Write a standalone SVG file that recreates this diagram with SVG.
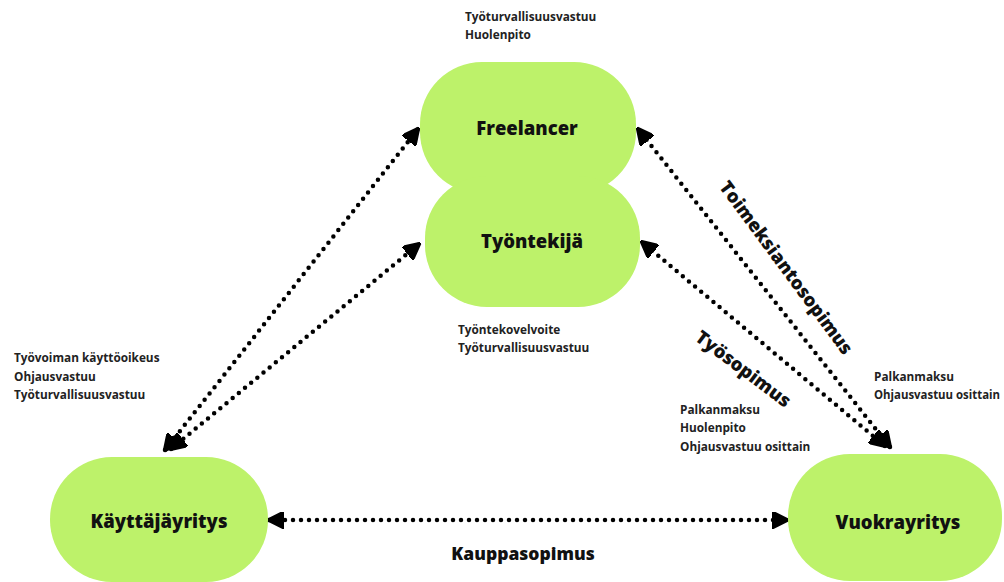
<svg xmlns="http://www.w3.org/2000/svg" width="1004" height="582" viewBox="0 0 1004 582">
<defs>
<style>
.node{fill:#bdf26a;}
.lbl{font-family:"Open Sans","Liberation Sans",sans-serif;font-weight:800;font-size:18.5px;fill:#111;text-anchor:middle;dominant-baseline:central;}
.note{font-family:"Open Sans","Liberation Sans",sans-serif;font-weight:700;font-size:11.8px;fill:#222;}
.rel{font-family:"Open Sans","Liberation Sans",sans-serif;font-weight:800;font-size:18.5px;fill:#111;text-anchor:middle;dominant-baseline:central;}
.conn{fill:none;stroke:#000;stroke-width:4.5;stroke-linecap:round;stroke-dasharray:0 8;marker-start:url(#ah);marker-end:url(#ah);}
</style>
<marker id="ah" viewBox="0 0 10 10" refX="9" refY="5" markerWidth="17" markerHeight="17" markerUnits="userSpaceOnUse" orient="auto-start-reverse">
<path d="M0,0 L10,5 L0,10 z" fill="#000" stroke="#000" stroke-width="1.5" stroke-linejoin="round"/>
</marker>
</defs>
<rect width="1004" height="582" fill="#fff"/>
<g id="connectors">
<line class="conn" x1="165" y1="450" x2="418" y2="129"/>
<line class="conn" x1="171" y1="449" x2="419" y2="244"/>
<line class="conn" x1="890" y1="447" x2="638" y2="129"/>
<line class="conn" x1="885" y1="446" x2="642" y2="242"/>
<line class="conn" x1="269" y1="520" x2="787" y2="520"/>
</g>
<g id="freelancer">
<rect class="node" x="420" y="62" width="216" height="132" rx="62"/>
<text class="lbl" x="527" y="127">Freelancer</text>
</g>
<g id="tyontekija">
<rect class="node" x="425" y="176" width="215" height="131" rx="62"/>
<text class="lbl" x="532" y="240">Työntekijä</text>
</g>
<g id="kayttajayritys">
<rect class="node" x="50" y="457" width="218" height="125" rx="62"/>
<text class="lbl" x="159" y="520">Käyttäjäyritys</text>
</g>
<g id="vuokrayritys">
<rect class="node" x="788" y="454" width="214" height="127" rx="62"/>
<text class="lbl" x="898" y="521">Vuokrayritys</text>
</g>
<g id="notes">
<text class="note" x="465" y="21">Työturvallisuusvastuu</text>
<text class="note" x="465" y="39">Huolenpito</text>
<text class="note" x="458" y="334">Työntekovelvoite</text>
<text class="note" x="458" y="352">Työturvallisuusvastuu</text>
<text class="note" x="14" y="362">Työvoiman käyttöoikeus</text>
<text class="note" x="14" y="381">Ohjausvastuu</text>
<text class="note" x="14" y="399">Työturvallisuusvastuu</text>
<text class="note" x="680" y="414">Palkanmaksu</text>
<text class="note" x="680" y="432">Huolenpito</text>
<text class="note" x="680" y="451">Ohjausvastuu osittain</text>
<text class="note" x="874" y="381">Palkanmaksu</text>
<text class="note" x="874" y="399" textLength="126" lengthAdjust="spacingAndGlyphs">Ohjausvastuu osittain</text>
</g>
<g id="relations">
<text class="rel" transform="translate(787,267) rotate(53.5)">Toimeksiantosopimus</text>
<text class="rel" transform="translate(744,368) rotate(37)">Työsopimus</text>
<text class="rel" x="523" y="553" style="font-size:17.5px">Kauppasopimus</text>
</g>
</svg>
